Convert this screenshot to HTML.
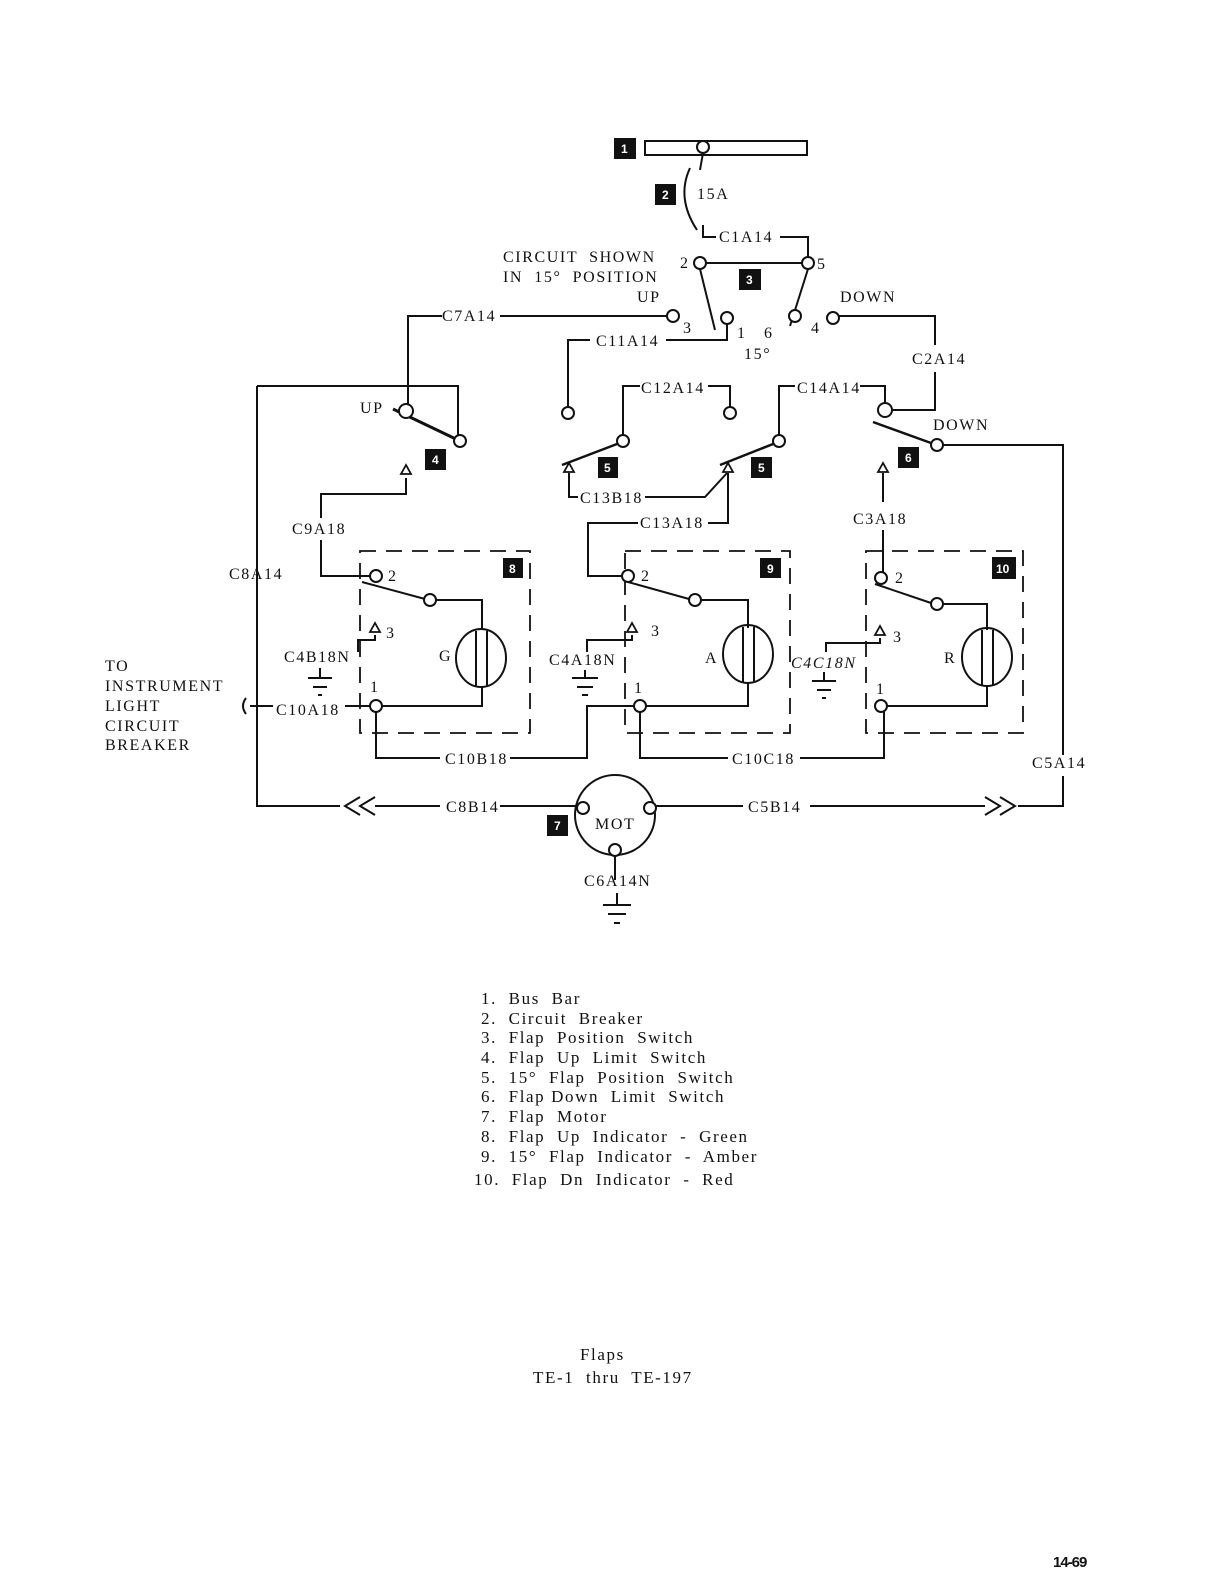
<!DOCTYPE html>
<html><head><meta charset="utf-8"><style>
html,body{margin:0;padding:0;background:#fff;}
svg{display:block;}
text{font-family:"Liberation Serif",serif;font-size:16px;fill:#111;letter-spacing:1.6px;white-space:pre;}
.lg{font-size:17px;letter-spacing:1.6px;}
.n{fill:#fff;font-family:"Liberation Sans",sans-serif;font-size:12px;font-weight:bold;letter-spacing:0;}
</style></head><body>
<svg width="1220" height="1584" viewBox="0 0 1220 1584" xmlns="http://www.w3.org/2000/svg" xml:space="preserve">
<g stroke="#111" stroke-width="2" fill="none">
<path d="M645 141 H807 V155 H645 Z"/>
<circle cx="703" cy="147" r="6" fill="#fff"/>
<path d="M703 153 L700 170"/>
<path d="M690 168 Q676 198 697 230"/>
<path d="M703 225 V237 H716 M780 237 H808 V258"/>
<path d="M706 263 H802"/>
<path d="M700 269 L715 330 M808 269 L790 326"/>
<path d="M500 316 H667 M442 316 H408 V405"/>
<path d="M727 324 V340 H666 M590 340 H568 V407"/>
<path d="M839 316 H935 V345 M935 372 V410 H891"/>
<path d="M257 386 H458 V435"/>
<path d="M393 409 L460 441" stroke-width="3"/>
<path d="M406 478 V494 H321 V518 M321 540 V576 H370"/>
<path d="M257 386 V806 H340 M375 806 H440 M500 806 H577"/>
<path d="M360 797 L345 806 L360 815 M375 797 L360 806 L375 815"/>
<path d="M562 465 L617 444" stroke-width="2.5"/>
<path d="M623 435 V386 H640 M708 386 H730 V407"/>
<path d="M569 473 V497 H578 M645 497 H705 L727 473"/>
<path d="M720 465 L773 444" stroke-width="2.5"/>
<path d="M779 435 V386 H795 M860 386 H885 V404"/>
<path d="M728 473 V523 H708 M638 523 H588 V576 H622"/>
<path d="M873 422 L931 443" stroke-width="2.5"/>
<path d="M943 445 H1063 V755 M1063 776 V806 H1018 M985 806 H810 M743 806 H655"/>
<path d="M1000 797 L1015 806 L1000 815 M985 797 L1000 806 L985 815"/>
<path d="M883 473 V502 M883 530 V572"/>
<g stroke-dasharray="16,10" stroke-width="1.8">
<path d="M360 551 H530 V733 H360 Z"/>
<path d="M625 551 H790 V733 H625 Z"/>
<path d="M866 551 H1023 V733 H866 Z"/>
</g>
<path d="M362 582 L425 599 M436 600 H482 V630 M482 686 V706 H382"/>
<ellipse cx="481" cy="658" rx="25" ry="29"/>
<path d="M476 631 V686 M487 631 V686"/>
<path d="M375 635 V640 H358 V652 M320 668 V678 M308 678 H332 M313 687 H327 M318 695 H322"/>
<path d="M370 706 H345 M273 706 H250"/>
<path d="M246 698 Q240 706 246 714" />
<path d="M376 712 V758 H440 M510 758 H587 V706 H634"/>
<path d="M628 582 L689 599 M701 600 H748 V628 M748 682 V706 H646"/>
<ellipse cx="748" cy="654" rx="25" ry="29"/>
<path d="M743 627 V682 M754 627 V682"/>
<path d="M632 635 V640 H587 V652 M585 670 V678 M572 678 H598 M577 687 H593 M582 695 H588"/>
<path d="M640 712 V758 H728 M800 758 H884 V712"/>
<path d="M875 584 L931 603 M943 604 H987 V630 M987 686 V706 H887"/>
<ellipse cx="987" cy="657" rx="25" ry="29"/>
<path d="M982 630 V686 M993 630 V686"/>
<path d="M880 638 V643 H826 V652 M824 672 V680 M812 681 H836 M817 690 H831 M822 698 H826"/>
<circle cx="615" cy="815" r="40" fill="#fff"/>
<path d="M615 856 V880 M617 893 V905 M603 905 H631 M608 914 H626 M614 923 H620"/>
<g fill="#fff">
<circle cx="700" cy="263" r="6"/><circle cx="808" cy="263" r="6"/>
<circle cx="673" cy="316" r="6"/><circle cx="727" cy="318" r="6"/>
<circle cx="795" cy="316" r="6"/><circle cx="833" cy="318" r="6"/>
<circle cx="406" cy="411" r="7"/><circle cx="460" cy="441" r="6"/>
<circle cx="568" cy="413" r="6"/><circle cx="623" cy="441" r="6"/>
<circle cx="730" cy="413" r="6"/><circle cx="779" cy="441" r="6"/>
<circle cx="885" cy="410" r="7"/><circle cx="937" cy="445" r="6"/>
<circle cx="376" cy="576" r="6"/><circle cx="430" cy="600" r="6"/><circle cx="376" cy="706" r="6"/>
<circle cx="628" cy="576" r="6"/><circle cx="695" cy="600" r="6"/><circle cx="640" cy="706" r="6"/>
<circle cx="881" cy="578" r="6"/><circle cx="937" cy="604" r="6"/><circle cx="881" cy="706" r="6"/>
<circle cx="583" cy="808" r="6"/><circle cx="650" cy="808" r="6"/><circle cx="615" cy="850" r="6"/>
</g>
<g fill="#fff" stroke-width="1.8">
<path d="M406 465 L401 474 H411 Z"/>
<path d="M569 463 L564 472 H574 Z"/>
<path d="M728 463 L723 472 H733 Z"/>
<path d="M883 463 L878 472 H888 Z"/>
<path d="M375 623 L370 632 H380 Z"/>
<path d="M632 623 L627 632 H637 Z"/>
<path d="M880 626 L875 635 H885 Z"/>
</g>
</g>
<g fill="#111">
<rect x="614" y="138" width="22" height="21"/><rect x="655" y="184" width="21" height="21"/>
<rect x="739" y="269" width="22" height="21"/><rect x="425" y="449" width="21" height="21"/>
<rect x="598" y="457" width="20" height="21"/><rect x="751" y="457" width="21" height="21"/>
<rect x="898" y="447" width="21" height="21"/><rect x="503" y="558" width="20" height="20"/>
<rect x="760" y="558" width="21" height="20"/><rect x="992" y="557" width="24" height="22"/>
<rect x="547" y="815" width="21" height="21"/>
</g>
<text class="n" x="621" y="153">1</text><text class="n" x="662" y="199">2</text>
<text class="n" x="746" y="284">3</text><text class="n" x="432" y="464">4</text>
<text class="n" x="604" y="472">5</text><text class="n" x="758" y="472">5</text>
<text class="n" x="905" y="462">6</text><text class="n" x="509" y="573">8</text>
<text class="n" x="767" y="573">9</text><text class="n" x="996" y="573">10</text>
<text class="n" x="554" y="830">7</text>
<text x="697" y="199">15A</text>
<text x="719" y="242">C1A14</text>
<text x="503" y="262">CIRCUIT  SHOWN</text>
<text x="503" y="282">IN  15°  POSITION</text>
<text x="680" y="268">2</text><text x="817" y="269">5</text>
<text x="637" y="302">UP</text><text x="840" y="302">DOWN</text>
<text x="442" y="321">C7A14</text>
<text x="683" y="333" font-size="14">3</text><text x="737" y="338" font-size="14">1</text>
<text x="764" y="338" font-size="14">6</text><text x="811" y="333" font-size="14">4</text>
<text x="744" y="359" font-size="14">15°</text>
<text x="596" y="346">C11A14</text>
<text x="912" y="364">C2A14</text>
<text x="641" y="393">C12A14</text>
<text x="797" y="393">C14A14</text>
<text x="360" y="413">UP</text>
<text x="933" y="430">DOWN</text>
<text x="580" y="503">C13B18</text>
<text x="640" y="528">C13A18</text>
<text x="292" y="534">C9A18</text>
<text x="853" y="524">C3A18</text>
<text x="229" y="579">C8A14</text>
<text x="388" y="581" font-size="14">2</text><text x="641" y="581" font-size="14">2</text><text x="895" y="583" font-size="14">2</text>
<text x="386" y="638" font-size="14">3</text><text x="651" y="636" font-size="14">3</text><text x="893" y="642" font-size="14">3</text>
<text x="284" y="662">C4B18N</text>
<text x="549" y="665">C4A18N</text>
<text x="791" y="668" font-style="italic">C4C18N</text>
<text x="439" y="661">G</text><text x="705" y="663">A</text><text x="944" y="663">R</text>
<text x="370" y="692" font-size="14">1</text><text x="634" y="693" font-size="14">1</text><text x="876" y="694" font-size="14">1</text>
<text x="105" y="671">TO</text>
<text x="105" y="691">INSTRUMENT</text>
<text x="105" y="711">LIGHT</text>
<text x="105" y="731">CIRCUIT</text>
<text x="105" y="750">BREAKER</text>
<text x="276" y="715">C10A18</text>
<text x="445" y="764">C10B18</text>
<text x="732" y="764">C10C18</text>
<text x="1032" y="768">C5A14</text>
<text x="446" y="812">C8B14</text>
<text x="748" y="812">C5B14</text>
<text x="595" y="829">MOT</text>
<text x="584" y="886">C6A14N</text>
<text class="lg" x="481" y="1004">1.  Bus  Bar</text>
<text class="lg" x="481" y="1024">2.  Circuit  Breaker</text>
<text class="lg" x="481" y="1043">3.  Flap  Position  Switch</text>
<text class="lg" x="481" y="1063">4.  Flap  Up  Limit  Switch</text>
<text class="lg" x="481" y="1083">5.  15°  Flap  Position  Switch</text>
<text class="lg" x="481" y="1102">6.  Flap Down  Limit  Switch</text>
<text class="lg" x="481" y="1122">7.  Flap  Motor</text>
<text class="lg" x="481" y="1142">8.  Flap  Up  Indicator  -  Green</text>
<text class="lg" x="481" y="1162">9.  15°  Flap  Indicator  -  Amber</text>
<text class="lg" x="474" y="1185">10.  Flap  Dn  Indicator  -  Red</text>
<text class="lg" x="580" y="1360">Flaps</text>
<text class="lg" x="533" y="1383">TE-1  thru  TE-197</text>
<text x="1053" y="1567" style="font-family:'Liberation Sans',sans-serif;font-weight:bold;font-size:15px;letter-spacing:-1px">14-69</text>
</svg>
</body></html>
